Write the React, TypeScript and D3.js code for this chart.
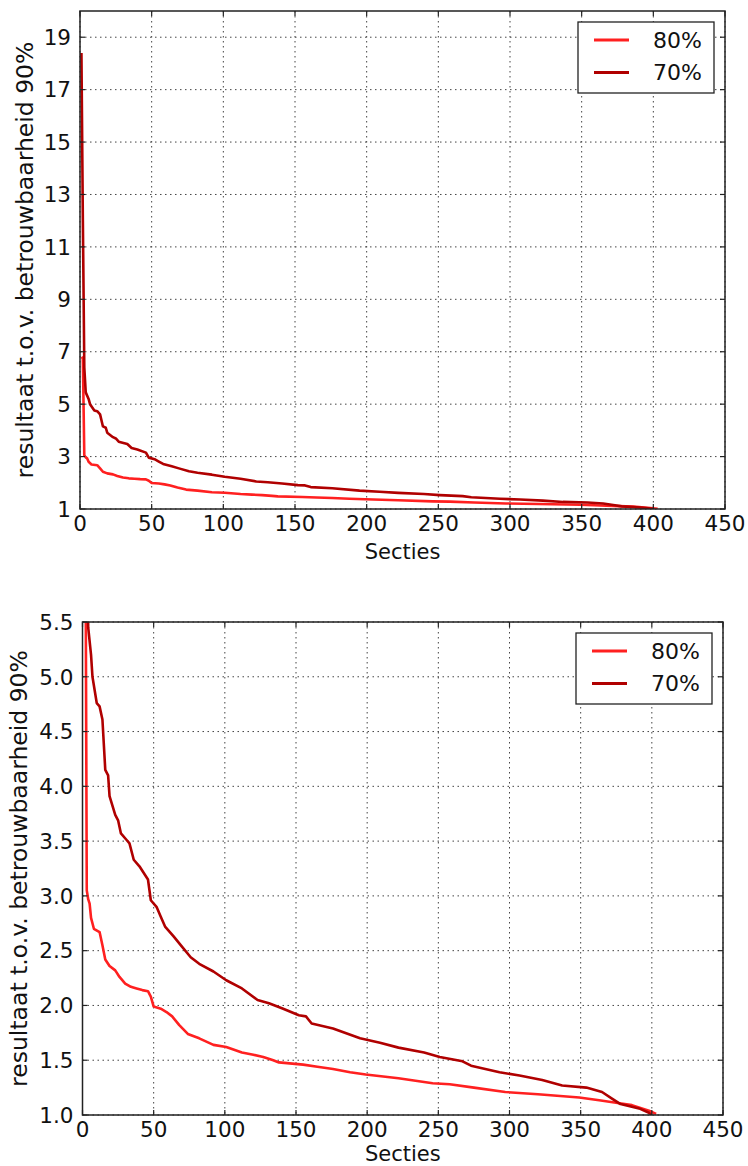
import React from "react";
import * as d3 from "d3";

// ---- Data ----
const sections80 = [1, 2, 3, 4, 5, 6, 8, 12, 14, 16, 19, 23, 26, 30, 34, 38, 42, 46, 48, 50, 55, 59, 63, 68, 74, 82, 92, 101, 112, 120, 127, 134, 138, 155, 165, 176, 188, 199, 222, 246, 258, 275, 297, 320, 349, 363, 376, 386, 398, 403];
const values80 = [6.8, 6.75, 3.05, 2.97, 2.93, 2.8, 2.7, 2.67, 2.55, 2.42, 2.36, 2.32, 2.26, 2.2, 2.17, 2.155, 2.14, 2.13, 2.08, 1.99, 1.97, 1.94, 1.9, 1.82, 1.74, 1.7, 1.64, 1.62, 1.57, 1.55, 1.53, 1.5, 1.48, 1.46, 1.44, 1.42, 1.39, 1.37, 1.335, 1.29, 1.28, 1.25, 1.21, 1.19, 1.16, 1.135, 1.11, 1.09, 1.04, 1.01];

const sections70 = [1, 2, 3, 4, 6, 7, 10, 12, 14, 16, 18, 19, 23, 25, 27, 31, 33, 36, 40, 46, 48, 52, 55, 58, 64, 69, 76, 82, 92, 101, 112, 123, 131, 141, 152, 157, 161, 176, 195, 209, 222, 240, 251, 267, 273, 293, 307, 323, 337, 354, 365, 372, 378, 391, 398, 400];
const values70 = [18.4, 12.0, 6.4, 5.45, 5.2, 5.0, 4.76, 4.73, 4.61, 4.15, 4.1, 3.91, 3.74, 3.69, 3.57, 3.51, 3.48, 3.33, 3.27, 3.15, 2.96, 2.9, 2.81, 2.72, 2.63, 2.55, 2.44, 2.38, 2.31, 2.23, 2.155, 2.05, 2.02, 1.97, 1.91, 1.9, 1.835, 1.79, 1.7, 1.66, 1.615, 1.57, 1.53, 1.49, 1.45, 1.39, 1.36, 1.32, 1.27, 1.25, 1.21, 1.15, 1.1, 1.06, 1.02, 1.0];

const seriesNames = ["80%", "70%"];
const seriesColors = ["#ff2020", "#b00000"];

const xTicks = [0, 50, 100, 150, 200, 250, 300, 350, 400, 450];
const yTicksTop = [1, 3, 5, 7, 9, 11, 13, 15, 17, 19];
const yTicksBottom = [1.0, 1.5, 2.0, 2.5, 3.0, 3.5, 4.0, 4.5, 5.0, 5.5];

const xLabel = "Secties";
const yLabel = "resultaat t.o.v. betrouwbaarheid 90%";

const W = 748;
const H = 1166;
const FONT = "DejaVu Sans, sans-serif";
const FS = 21.5;
const XFS = 21;
const YFS = 23.5;

type PanelProps = {
  id: string;
  left: number;
  right: number;
  top: number;
  bottom: number;
  yDomain: [number, number];
  yTicks: number[];
  fmt: (v: number) => string;
  yLabelX: number;
  xLabelY: number;
};

function Panel(p: PanelProps) {
  const x = d3.scaleLinear().domain([0, 450]).range([p.left, p.right]);
  const y = d3.scaleLinear().domain(p.yDomain).range([p.bottom, p.top]);
  const series = [
    sections80.map((s, i) => [s, values80[i]] as [number, number]),
    sections70.map((s, i) => [s, values70[i]] as [number, number]),
  ];
  const line = d3
    .line<[number, number]>()
    .x((d) => x(d[0]))
    .y((d) => y(d[1]));
  const tl = 5;
  const legW = 136;
  const legH = 71;
  const legX = p.right - 11 - legW;
  const legY = p.top + 11;
  return (
    <g>
      <defs>
        <clipPath id={p.id}>
          <rect x={p.left} y={p.top} width={p.right - p.left} height={p.bottom - p.top} />
        </clipPath>
      </defs>
      {/* grid */}
      {xTicks.map((t) => (
        <line key={"gx" + t} x1={x(t)} x2={x(t)} y1={p.top} y2={p.bottom} stroke="#444" strokeWidth={1} strokeDasharray="1.5,3.5" />
      ))}
      {p.yTicks.map((t) => (
        <line key={"gy" + t} x1={p.left} x2={p.right} y1={y(t)} y2={y(t)} stroke="#444" strokeWidth={1} strokeDasharray="1.5,3.5" />
      ))}
      {/* series */}
      <g clipPath={`url(#${p.id})`}>
        {series.map((s, i) => (
          <path key={i} d={line(s) || ""} fill="none" stroke={seriesColors[i]} strokeWidth={2.6} strokeLinejoin="round" />
        ))}
      </g>
      {/* ticks */}
      {xTicks.map((t) => (
        <g key={"tx" + t}>
          <line x1={x(t)} x2={x(t)} y1={p.bottom} y2={p.bottom - tl} stroke="#222" strokeWidth={1.2} />
          <line x1={x(t)} x2={x(t)} y1={p.top} y2={p.top + tl} stroke="#222" strokeWidth={1.2} />
          <text x={x(t)} y={p.bottom + 22} textAnchor="middle" fontFamily={FONT} fontSize={FS} fill="#111">
            {t}
          </text>
        </g>
      ))}
      {p.yTicks.map((t) => (
        <g key={"ty" + t}>
          <line x1={p.left} x2={p.left + tl} y1={y(t)} y2={y(t)} stroke="#222" strokeWidth={1.2} />
          <line x1={p.right} x2={p.right - tl} y1={y(t)} y2={y(t)} stroke="#222" strokeWidth={1.2} />
          <text x={p.left - 9} y={y(t)} dy="0.36em" textAnchor="end" fontFamily={FONT} fontSize={FS} fill="#111">
            {p.fmt(t)}
          </text>
        </g>
      ))}
      {/* frame */}
      <rect x={p.left} y={p.top} width={p.right - p.left} height={p.bottom - p.top} fill="none" stroke="#222" strokeWidth={1.5} />
      {/* axis labels */}
      <text x={(p.left + p.right) / 2} y={p.xLabelY} textAnchor="middle" fontFamily={FONT} fontSize={XFS} fill="#111">
        {xLabel}
      </text>
      <text
        transform={`translate(${p.yLabelX},${(p.top + p.bottom) / 2}) rotate(-90)`}
        textAnchor="middle"
        fontFamily={FONT}
        fontSize={YFS}
        fill="#111"
      >
        {yLabel}
      </text>
      {/* legend */}
      <rect x={legX} y={legY} width={legW} height={legH} fill="#fff" stroke="#222" strokeWidth={1.3} />
      {seriesNames.map((n, i) => (
        <g key={n}>
          <line x1={legX + 16} x2={legX + 51} y1={legY + 18 + i * 32.5} y2={legY + 18 + i * 32.5} stroke={seriesColors[i]} strokeWidth={3} />
          <text x={legX + 75} y={legY + 18 + i * 32.5} dy="0.36em" fontFamily={FONT} fontSize={22} fill="#111">
            {n}
          </text>
        </g>
      ))}
    </g>
  );
}

export default function App() {
  return (
    <svg width={W} height={H} style={{ position: "absolute", left: 0, top: 0, background: "#fff" }}>
      <rect width={W} height={H} fill="#fff" />
      <Panel id="clipTop" left={80} right={725} top={11} bottom={509} yDomain={[1, 20]} yTicks={yTicksTop} fmt={(v) => String(v)} yLabelX={33} xLabelY={559} />
      <Panel id="clipBottom" left={82.5} right={723} top={622} bottom={1115} yDomain={[1, 5.5]} yTicks={yTicksBottom} fmt={d3.format(".1f")} yLabelX={27} xLabelY={1161} />
    </svg>
  );
}
